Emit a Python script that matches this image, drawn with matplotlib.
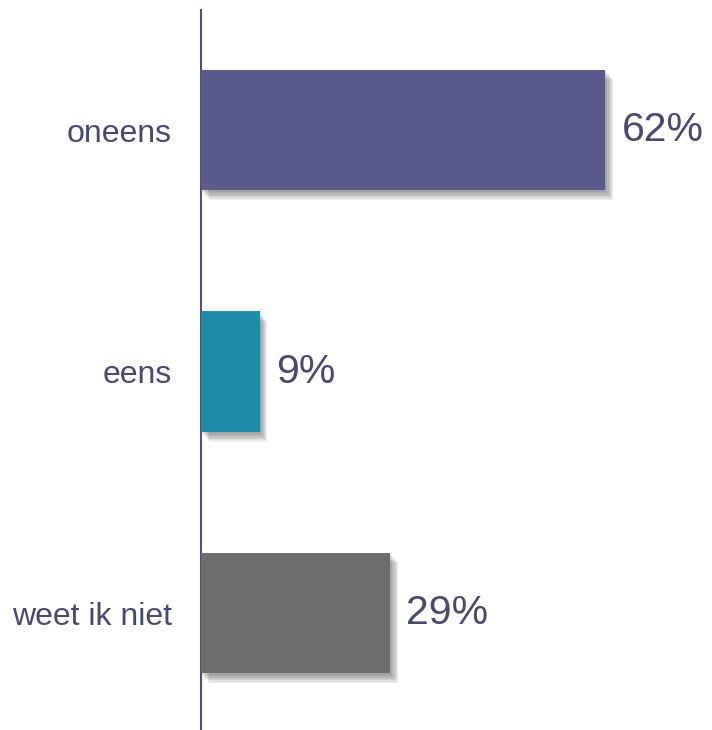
import matplotlib.pyplot as plt
import matplotlib.patheffects as pe

plt.rcParams['font.family'] = ['Liberation Sans', 'DejaVu Sans']

categories = ["oneens", "eens", "weet ik niet"]
values = [62, 9, 29]
colors = ["#5a5b8a", "#1f8caa", "#6d6d6d"]
text_color = "#474a6e"

fig = plt.figure(figsize=(7.12, 7.30), dpi=100)
ax = fig.add_axes([201 / 712, 0, 1 - 201 / 712, 1 - 10 / 730])

pos = list(range(len(categories)))
bars = ax.barh(pos, values, height=0.5, color=colors, zorder=3)

# soft drop shadow: stacked translucent copies to fake a blur
shadow = []
for dx in range(1, 8):
    shadow.append(pe.SimplePatchShadow(offset=(dx * 0.8, -dx), shadow_rgbFace="#444444",
                                       alpha=0.09))
for bar in bars:
    bar.set_path_effects(shadow + [pe.Normal()])

for p, v in zip(pos, values):
    ax.text(v + 2.5, p, f"{v}%", va="center", ha="left", fontsize=29.5, color=text_color)

ax.set_xlim(0, 511 / 6.52)
ax.set_ylim(2.484, -0.497)
ax.set_yticks(pos)
ax.set_yticklabels(categories, fontsize=23, color=text_color)
ax.tick_params(axis="y", length=0, pad=21)
ax.set_xticks([])
for s in ["top", "right", "bottom"]:
    ax.spines[s].set_visible(False)
ax.spines["left"].set_color("#50507a")
ax.spines["left"].set_linewidth(1.5)

plt.savefig("out.png", dpi=100)
